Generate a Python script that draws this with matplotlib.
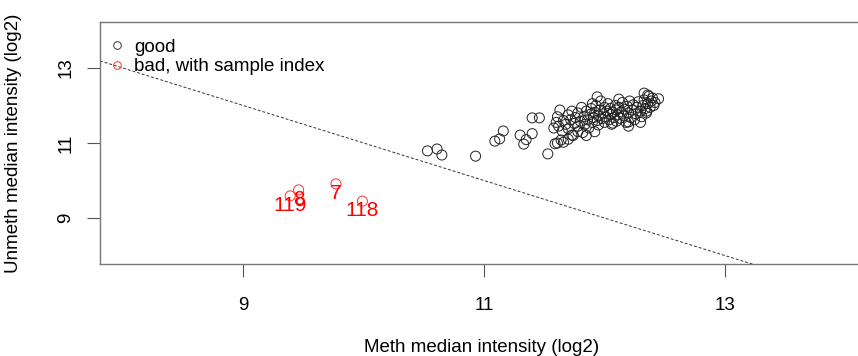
import numpy as np
import matplotlib
matplotlib.use("Agg")
import matplotlib.pyplot as plt
from matplotlib.lines import Line2D

plt.rcParams['font.family'] = ['Liberation Sans', 'DejaVu Sans']

# median intensities (log2) of the good samples
good_meth = [10.53, 10.61, 10.65, 10.93, 11.09, 11.13, 11.16, 11.30, 11.40, 11.35,
             11.33, 11.40, 11.46, 11.53, 11.61, 11.64, 11.73,
             11.58, 11.60, 11.62, 11.61, 11.63, 11.65, 11.66, 11.68, 11.70, 11.70,
             11.72, 11.73, 11.74, 11.75, 11.76, 11.78, 11.78, 11.80, 11.81, 11.82,
             11.83, 11.84, 11.85, 11.86, 11.87, 11.88, 11.89, 11.90, 11.91, 11.92,
             11.93, 11.94, 11.95, 11.95, 11.96, 11.97, 11.98, 11.99, 12.00, 12.00,
             12.01, 12.02, 12.03, 12.04, 12.05, 12.05, 12.06, 12.07, 12.08, 12.09,
             12.10, 12.10, 12.11, 12.12, 12.13, 12.14, 12.15, 12.16, 12.17, 12.18,
             12.19, 12.20, 12.21, 12.22, 12.23, 12.24, 12.25, 12.26, 12.27, 12.28,
             12.30, 12.31, 12.32, 12.33, 12.34, 12.35, 12.36, 12.37, 12.38, 12.39,
             12.40, 12.41, 12.42, 12.45, 12.30, 12.20, 11.92, 11.85, 11.78, 12.12,
             11.94, 11.90, 11.70, 11.66, 11.59, 12.33, 12.36, 12.35, 12.20, 12.07]
good_unmeth = [10.79, 10.84, 10.68, 10.65, 11.05, 11.11, 11.32, 11.21, 11.25, 11.09,
               10.97, 11.67, 11.67, 10.71, 11.00, 11.08, 11.21,
               11.40, 11.55, 11.45, 11.70, 11.88, 11.32, 11.60, 11.50, 11.75, 11.38,
               11.62, 11.85, 11.20, 11.52, 11.68, 11.45, 11.80, 11.58, 11.95, 11.28,
               11.70, 11.50, 11.85, 11.62, 11.40, 11.76, 11.92, 11.55, 11.68, 11.82,
               12.00, 11.60, 11.72, 11.48, 11.88, 12.12, 11.65, 11.78, 11.95, 11.55,
               11.70, 11.85, 12.05, 11.62, 11.76, 11.92, 11.50, 11.82, 11.68, 12.00,
               11.88, 11.58, 11.75, 11.95, 11.66, 11.83, 12.08, 11.72, 11.90, 11.55,
               11.98, 11.80, 12.12, 11.68, 11.88, 12.02, 11.62, 11.78, 11.95, 12.10,
               11.85, 11.70, 12.00, 12.15, 11.92, 11.80, 12.05, 12.25, 11.95, 12.12,
               12.20, 12.00, 12.08, 12.18, 11.55, 11.45, 11.30, 11.20, 11.30, 12.17,
               12.23, 12.05, 11.10, 11.02, 10.98, 12.33, 12.28, 11.85, 11.56, 11.53]

# bad samples and their index
bad_meth = [9.39, 9.46, 9.77, 9.99]
bad_unmeth = [9.59, 9.75, 9.91, 9.45]
bad_index = ['119', '8', '7', '118']

cutoff = 10.5
label_offset = 0.25

fig = plt.figure(figsize=(8.58, 3.56), dpi=100)
ax = fig.add_axes([100 / 858, 92 / 356, 762 / 858, 242 / 356])

ax.scatter(good_meth, good_unmeth, s=52, facecolors='none', edgecolors='#222222', linewidths=0.7, zorder=3)
ax.scatter(bad_meth, bad_unmeth, s=52, facecolors='none', edgecolors='#ff3030', linewidths=0.7, zorder=3)
for m, u, lab in zip(bad_meth, bad_unmeth, bad_index):
    ax.text(m, u - label_offset, lab, color='red', fontsize=15, ha='center', va='center', zorder=4)

xs = np.array([7.0, 15.0])
ax.plot(xs, 2 * cutoff - xs, linestyle=(0, (3, 2)), color='#333333', linewidth=0.7)

ax.set_xlim(7.81, 14.14)
ax.set_ylim(7.773, 14.227)
ax.set_xticks([9, 11, 13])
ax.set_yticks([9, 11, 13])
ax.tick_params(axis='both', labelsize=13.5, length=9.5, width=0.8, color='#555555')
ax.tick_params(axis='x', pad=14)
ax.tick_params(axis='y', pad=9)
for lbl in ax.get_yticklabels():
    lbl.set_rotation(90)
    lbl.set_va('center')
for sp in ax.spines.values():
    sp.set_color('#777777')
    sp.set_linewidth(1)
ax.spines['right'].set_visible(False)

fig.text(482 / 858, 1 - 347 / 356, 'Meth median intensity (log2)', fontsize=13.5, ha='center', va='center')
fig.text(14 / 858, 1 - 143 / 356, 'Unmeth median intensity (log2)', fontsize=13.5, ha='center', va='center', rotation=90)

handles = [Line2D([], [], linestyle='none', marker='o', markerfacecolor='none', markeredgecolor='#333333', markersize=5.5, markeredgewidth=0.7),
           Line2D([], [], linestyle='none', marker='o', markerfacecolor='none', markeredgecolor='#ff3030', markersize=5.5, markeredgewidth=0.7)]
ax.legend(handles, ['good', 'bad, with sample index'], loc='upper left', bbox_to_anchor=(-0.006, 1.0),
          frameon=False, fontsize=13.5,
          handlelength=0.5, handletextpad=0.67, borderpad=0.6, borderaxespad=0.3, labelspacing=0.12)

fig.savefig('out.png', dpi=100)
